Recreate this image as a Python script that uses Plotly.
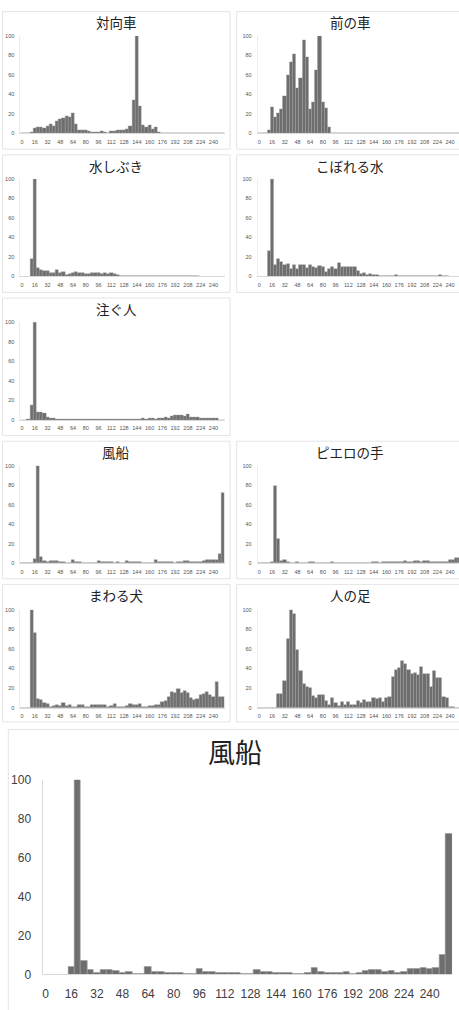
import plotly.graph_objects as go

# ---------------- data (64 bins of width 4, values normalised to 100) ----------------
bins = [4 * i for i in range(64)]
tick_vals = list(range(0, 241, 16))
tick_text = [str(v) for v in tick_vals]
y_ticks = [0, 20, 40, 60, 80, 100]

taikousha = [0, 0, 0, 1, 5, 6.5, 7, 5.5, 8, 9.5, 8, 13, 15, 16, 17.5, 16.5,
             21, 10, 3, 3, 3, 2.5, 1.5, 1.5, 1.5, 2, 1.5, 0.5, 2, 2.5, 3, 3.5,
             3.5, 4, 8, 34, 100, 28, 9, 6, 9, 4, 6.5, 1.5, 0, 0, 0, 0,
             0, 0, 0, 0, 0, 0, 0, 0, 0, 0, 0, 0, 0, 0, 0, 0]
mae_no_kuruma = [0, 0, 0, 3, 27, 17, 21, 25, 38, 60, 73, 81, 47, 57, 96, 78,
                 25, 32, 65, 100, 32, 26, 6, 0, 0, 0, 0, 0, 0, 0, 0, 0,
                 0, 0, 0, 0, 0, 0, 0, 0, 0, 0, 0, 0, 0, 0, 0, 0,
                 0, 0, 0, 0, 0, 0, 0, 0, 0, 0, 0, 0, 0, 0, 0, 0]
mizushibuki = [0, 0, 0, 18, 100, 9, 6.5, 5.5, 6, 4, 4, 7, 3.5, 4.5, 2, 3,
               3.5, 5, 4, 4, 2.5, 2.5, 3.5, 4, 3.5, 3, 3.5, 2.5, 3.5, 3, 2, 1,
               1, 1, 1, 1, 1, 0.5, 1, 0.5, 0.3, 0.3, 0.3, 0.3, 0.3, 0.3, 0.3, 0.3,
               0.3, 0.3, 0.3, 0.3, 0.3, 0.3, 0.3, 0.3, 0, 0, 0, 0, 0, 0, 0, 0]
koboreru_mizu = [0, 0, 0, 26, 100, 12, 18, 15, 11.5, 12.5, 8, 12, 8, 12, 12, 9,
                 12, 10, 9, 11, 10, 5, 8, 10, 7.5, 13.5, 9.5, 10, 10, 10, 9.5, 6,
                 3, 3.5, 2, 2.5, 1.5, 1.5, 0.3, 1, 0.3, 0.3, 0.5, 1.5, 1, 1, 0.3, 0.3,
                 0.3, 0.3, 1, 1, 1, 0.5, 0.3, 0.3, 0.3, 2, 0.3, 0.3, 0, 0, 0, 0]
sosogu_hito = [0, 0, 1, 15, 100, 8, 8, 6.5, 2.5, 2, 1.5, 1, 1, 1, 1, 1,
               1, 0.5, 0.5, 0.5, 0.5, 0.5, 0.5, 0.5, 0.5, 0.5, 0.5, 1, 0.8, 0.8, 0.8, 0.5,
               0.3, 1, 0.3, 0.3, 1, 1, 1.5, 1, 1.5, 1.5, 1, 2, 1.5, 2.5, 1.5, 3.5,
               5, 5, 5, 4, 5.5, 2.5, 2.5, 3, 1.5, 1.5, 1.5, 1.5, 1.5, 1.5, 0, 0]
fuusen = [0, 0, 0, 0, 4, 100, 7, 2.5, 1, 2.5, 2.2, 2, 1, 1.2, 0.3, 0.3,
          3.7, 1.3, 1.2, 0.8, 0.8, 0.8, 0.3, 0.3, 2.7, 1.5, 1.2, 1, 1, 0.6, 1, 0.4,
          0.5, 2.3, 1.5, 1.2, 1, 1, 0.6, 0.3, 0.3, 0.7, 3.3, 1.5, 1, 1, 1, 1.5,
          0.3, 1, 1.8, 2.3, 2.2, 1.5, 1.8, 1, 1.2, 2.7, 3, 3.3, 3, 3.5, 10, 72]
piero_no_te = [0, 0, 0, 0, 1.5, 79, 25, 2, 3, 1.5, 0.3, 0.3, 1, 0.3, 0.3, 0.3,
               1.5, 1, 0.5, 0.5, 0.5, 0.5, 0.5, 1, 0.5, 0.5, 0.3, 0.5, 0.3, 0.3, 0.3, 0.5,
               0.3, 0.3, 0.3, 0.5, 1, 1, 0.5, 1, 1, 1, 1.5, 1.5, 1.5, 1.5, 2.5, 1.5,
               1.5, 2, 2, 1.5, 2, 2, 1, 1, 1.5, 1, 1.5, 1.5, 3, 3, 5, 5]
mawaru_inu = [0, 0, 0, 100, 76, 9, 7.5, 5, 4, 1, 1.5, 3, 1.5, 5, 2, 2.5,
              0.5, 1, 2.5, 3, 1, 0.5, 2.5, 2.5, 2.5, 2.5, 2.5, 0.5, 2, 3.5, 0.5, 0.5,
              1, 1.5, 3.5, 2.5, 3, 3.5, 0.5, 1, 2, 2, 3, 3, 6, 7, 11, 16,
              15, 19, 15, 17, 15, 10, 8.5, 9, 13, 14, 16, 13, 11.5, 26, 11.5, 11.5]
hito_no_ashi = [0, 0, 0, 0, 0, 0, 14, 14, 27, 70, 100, 96, 59, 38, 24, 21,
                20, 12, 10, 13, 13, 7, 3, 10, 5, 1.5, 6, 3, 6, 3, 3, 7,
                5, 8, 6, 6, 10, 9, 10, 6, 10, 11, 32, 39, 41, 48, 45, 39,
                35, 36, 34, 42, 35, 35, 21, 38, 30, 31, 11, 10, 1, 1, 0, 0]

# (title, values, column, row)
panels = [
    ("対向車", taikousha, 0, 0),
    ("前の車", mae_no_kuruma, 1, 0),
    ("水しぶき", mizushibuki, 0, 1),
    ("こぼれる水", koboreru_mizu, 1, 1),
    ("注ぐ人", sosogu_hito, 0, 2),
    ("風船", fuusen, 0, 3),
    ("ピエロの手", piero_no_te, 1, 3),
    ("まわる犬", mawaru_inu, 0, 4),
    ("人の足", hito_no_ashi, 1, 4),
]
big_title = "風船"
big_values = fuusen

# ---------------- layout geometry (pixels) ----------------
W, H = 459, 1010
BAR = "#6e6e6e"
BAR_EDGE = "#9c9c9c"
AXLINE = "#d9d9d9"
BORDER = "#e4e4e4"
TICKFONT = "Liberation Sans, Arial, sans-serif"
JPFONT = "Noto Sans CJK JP, sans-serif"

col_plot_x = [(20.4, 224.6), (257.7, 459.0)]
col_range = [(-2, 254), (-2, 251.2)]
col_border_x = [(2.5, 230.0), (236.7, 466.0)]
row_top = [4.7 + 145.2 * r for r in range(5)]
row_plot_y = [(29.5, 128.2), (174.3, 273.2), (319.7, 418.7), (465.3, 564.0), (611.3, 710.5)]


def xdom(a, b):
    return [max(0.0, a / W), min(1.0, b / W)]


def ydom(top, bottom):
    return [1 - bottom / H, 1 - top / H]


fig = go.Figure()
shapes = []
annotations = []
layout = {}

for k, (title, vals, col, row) in enumerate(panels, start=1):
    xa = "x" if k == 1 else f"x{k}"
    ya = "y" if k == 1 else f"y{k}"
    fig.add_trace(go.Bar(
        x=bins, y=vals, width=4, xaxis=xa, yaxis=ya,
        marker=dict(color=BAR, line=dict(color=BAR_EDGE, width=0.4)),
        showlegend=False, hoverinfo="x+y",
    ))
    xname = "xaxis" if k == 1 else f"xaxis{k}"
    yname = "yaxis" if k == 1 else f"yaxis{k}"
    layout[xname] = dict(
        domain=xdom(*col_plot_x[col]), range=list(col_range[col]), anchor=ya,
        tickmode="array", tickvals=tick_vals, ticktext=tick_text,
        showgrid=False, zeroline=False, showline=True, linecolor=AXLINE, linewidth=1,
        ticks="", tickangle=0, ticklabelstandoff=3,
        tickfont=dict(family=TICKFONT, size=5.5, color="#555555"),
        fixedrange=True,
    )
    layout[yname] = dict(
        domain=ydom(*row_plot_y[row]), range=[0, 100], anchor=xa,
        tickmode="array", tickvals=y_ticks,
        showgrid=False, zeroline=False, showline=True, linecolor="#ececec", linewidth=1,
        ticks="", ticklabelstandoff=4,
        tickfont=dict(family=TICKFONT, size=5.5, color="#555555"),
        fixedrange=True,
    )
    bx0, bx1 = col_border_x[col]
    top = row_top[row]
    shapes.append(dict(type="rect", xref="paper", yref="paper",
                       x0=bx0 / W, x1=bx1 / W, y0=1 - (top + 139.5) / H, y1=1 - top / H,
                       line=dict(color=BORDER, width=1), fillcolor="rgba(0,0,0,0)", layer="below"))
    annotations.append(dict(text=title, xref="paper", yref="paper",
                            x=((bx0 + (bx0 + 227.5)) / 2) / W, y=1 - (top + 11) / H,
                            xanchor="center", yanchor="middle", showarrow=False,
                            font=dict(family=JPFONT, size=13.5, color="#222222")))

# big chart
kb = len(panels) + 1
fig.add_trace(go.Bar(
    x=bins, y=big_values, width=4, xaxis=f"x{kb}", yaxis=f"y{kb}",
    marker=dict(color=BAR, line=dict(color=BAR_EDGE, width=0.6)),
    showlegend=False, hoverinfo="x+y",
))
layout[f"xaxis{kb}"] = dict(
    domain=xdom(42.5, 452.1), range=[-2, 254], anchor=f"y{kb}",
    tickmode="array", tickvals=tick_vals, ticktext=tick_text,
    showgrid=False, zeroline=False, showline=True, linecolor=AXLINE, linewidth=1,
    ticks="", tickangle=0, ticklabelstandoff=8,
    tickfont=dict(family=TICKFONT, size=12, color="#404040"),
    fixedrange=True,
)
layout[f"yaxis{kb}"] = dict(
    domain=ydom(783.7, 981.0), range=[0, 100], anchor=f"x{kb}",
    tickmode="array", tickvals=y_ticks,
    showgrid=False, zeroline=False, showline=True, linecolor=AXLINE, linewidth=1,
    ticks="", ticklabelstandoff=8,
    tickfont=dict(family=TICKFONT, size=12, color="#404040"),
    fixedrange=True,
)
shapes.append(dict(type="rect", xref="paper", yref="paper",
                   x0=8.3 / W, x1=470 / W, y0=1 - 1030 / H, y1=1 - 732.7 / H,
                   line=dict(color=BORDER, width=1), fillcolor="rgba(0,0,0,0)", layer="below"))
annotations.append(dict(text=big_title, xref="paper", yref="paper",
                        x=235 / W, y=1 - 754.5 / H, xanchor="center", yanchor="middle",
                        showarrow=False, font=dict(family=JPFONT, size=27, color="#222222")))

fig.update_layout(
    width=W, height=H, margin=dict(l=0, r=0, t=0, b=0),
    paper_bgcolor="white", plot_bgcolor="white",
    bargap=0, shapes=shapes, annotations=annotations, **layout,
)

fig.write_html(
    "out.html",
    config={"displayModeBar": False},
    post_script="document.body.style.margin='0';document.body.style.overflow='hidden';",
)
